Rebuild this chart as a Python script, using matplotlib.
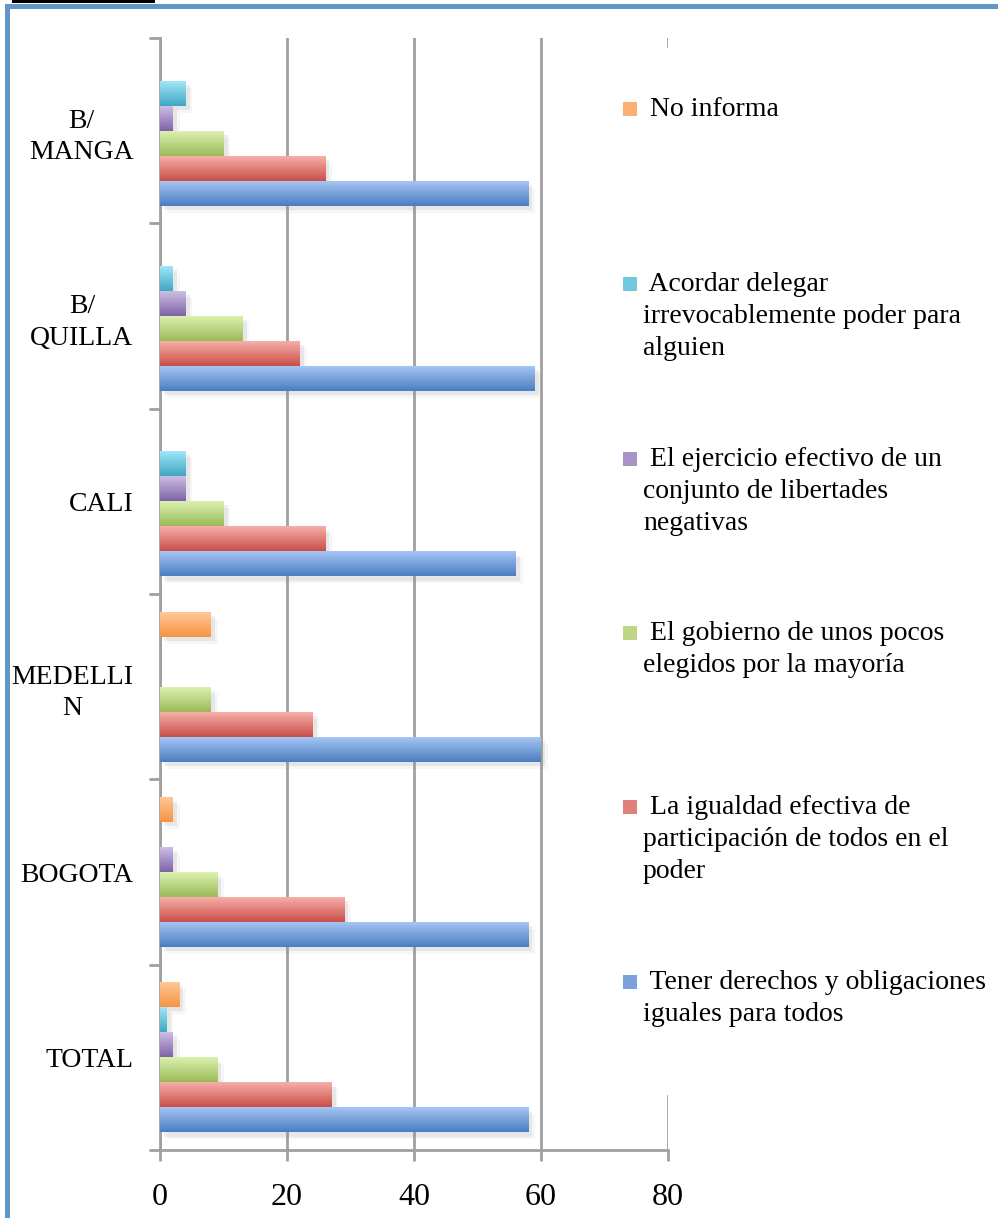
import numpy as np
import matplotlib
matplotlib.use("Agg")
import matplotlib.pyplot as plt
from matplotlib.patches import Rectangle
import matplotlib.patheffects as pe

plt.rcParams['font.family'] = ['Liberation Serif', 'DejaVu Serif']

categories = ["TOTAL", "BOGOTA", "MEDELLI\nN", "CALI", "B/\nQUILLA", "B/\nMANGA"]

# series, bottom to top inside each group
series_names = [
    " Tener derechos y obligaciones\niguales para todos",
    " La igualdad efectiva de\nparticipación de todos en el\npoder",
    " El gobierno de unos pocos\nelegidos por la mayoría",
    " El ejercicio efectivo de un\nconjunto de libertades\nnegativas",
    " Acordar delegar\nirrevocablemente poder para\nalguien",
    " No informa",
]
tener = [58, 58, 60, 56, 59, 58]
igualdad = [27, 29, 24, 26, 22, 26]
gobierno = [9, 9, 8, 10, 13, 10]
ejercicio = [2, 2, 0, 4, 4, 2]
acordar = [1, 0, 0, 4, 2, 4]
no_informa = [3, 2, 8, 0, 0, 0]
series_values = [tener, igualdad, gobierno, ejercicio, acordar, no_informa]

x_ticks = [0, 20, 40, 60, 80]

# (top colour, bottom colour) of each gradient
grad_colors = [
    ("#aac8f6", "#4a7ec0"),
    ("#fab2ac", "#c84f49"),
    ("#def3b2", "#9bbb59"),
    ("#d0c1e8", "#7f64a6"),
    ("#a5e8fa", "#3fa7c3"),
    ("#ffc99c", "#f79443"),
]

fig = plt.figure(figsize=(9.98, 12.18), dpi=100)
W, H = 998, 1218
ax = fig.add_axes([160 / W, 1 - 1150 / H, (668 - 160) / W, (1150 - 38) / H])

n = len(series_values)
bar_h = 0.135
y = np.arange(len(categories))
grid_c = "#a0a0a0"

for i, vals in enumerate(series_values):
    top_c, bot_c = grad_colors[i]
    offs = (i - (n - 1) / 2) * bar_h
    bars = ax.barh(y + offs, vals, height=bar_h, color="none", edgecolor="none", zorder=3)
    c1 = np.array(matplotlib.colors.to_rgb(top_c))
    c2 = np.array(matplotlib.colors.to_rgb(bot_c))
    t = np.linspace(0, 1, 64)[:, None]
    img = (c1 * (1 - t) + c2 * t)[:, None, :]
    for b in bars:
        if b.get_width() <= 0:
            continue
        x0, y0 = b.get_x(), b.get_y()
        x1, y1 = x0 + b.get_width(), y0 + b.get_height()
        # soft drop shadow
        sh = Rectangle((x0, y0), b.get_width(), b.get_height(), facecolor="none",
                       edgecolor="none", zorder=2.5,
                       path_effects=[pe.SimplePatchShadow(offset=(3, -3), shadow_rgbFace="#909090", alpha=0.15),
                                     pe.SimplePatchShadow(offset=(5, -5), shadow_rgbFace="#909090", alpha=0.08)])
        ax.add_patch(sh)
        im = ax.imshow(img, extent=(x0, x1, y0, y1), origin="upper", aspect="auto",
                       zorder=3, interpolation="bilinear")
        im.set_clip_path(b)

ax.set_xlim(0, 80)
ax.set_ylim(-0.5, len(categories) - 0.5)
ax.set_xticks(x_ticks)
ax.set_xticklabels([str(v) for v in x_ticks], fontsize=23)
ax.set_yticks(np.arange(-0.5, len(categories), 1.0))
ax.set_yticklabels([])
ax.set_yticks(y, minor=True)
ax.set_yticklabels(categories, minor=True, fontsize=20, ha="right",
                   multialignment="center", linespacing=1.35)
ax.tick_params(axis="y", which="minor", length=0, pad=19)
ax.tick_params(axis="y", which="major", length=8, width=2, color=grid_c)
ax.tick_params(axis="x", length=8, width=2, color=grid_c, pad=16)
ax.grid(axis="x", color=grid_c, linewidth=2, zorder=0)
ax.set_axisbelow(True)
for s in ["top", "right"]:
    ax.spines[s].set_visible(False)
for s in ["left", "bottom"]:
    ax.spines[s].set_color(grid_c)
    ax.spines[s].set_linewidth(2)

# legend area (white box hides the 80 gridline)
fig.patches.append(Rectangle((590 / W, 1 - 1095 / H), (W - 590) / W, (1095 - 48) / H,
                             transform=fig.transFigure, facecolor="white",
                             edgecolor="none", zorder=1))
leg_tops = [987, 812, 638, 464, 289, 114]
for i, name in enumerate(series_names):
    yc = leg_tops[i]
    mid = (np.array(matplotlib.colors.to_rgb(grad_colors[i][0])) +
           np.array(matplotlib.colors.to_rgb(grad_colors[i][1]))) / 2
    fig.patches.append(Rectangle((623 / W, 1 - (yc + 2) / H), 14 / W, 14 / H,
                                 transform=fig.transFigure, facecolor=tuple(mid),
                                 edgecolor="none", zorder=2))
    fig.text(643 / W, 1 - (yc - 17) / H, name, fontsize=20, va="top", ha="left",
             linespacing=1.38, zorder=3)

# frame
border = "#6196c8"
fig.patches.append(Rectangle((5 / W, 1 - 9 / H), (W - 5) / W, 5 / H, transform=fig.transFigure,
                             facecolor=border, edgecolor="none", zorder=4))
fig.patches.append(Rectangle((5 / W, 0), 5 / W, 1 - 4 / H, transform=fig.transFigure,
                             facecolor=border, edgecolor="none", zorder=4))
fig.patches.append(Rectangle((12 / W, 1 - 3 / H), 143 / W, 3 / H, transform=fig.transFigure,
                             facecolor="black", edgecolor="none", zorder=4))

fig.savefig("out.png", dpi=100)
